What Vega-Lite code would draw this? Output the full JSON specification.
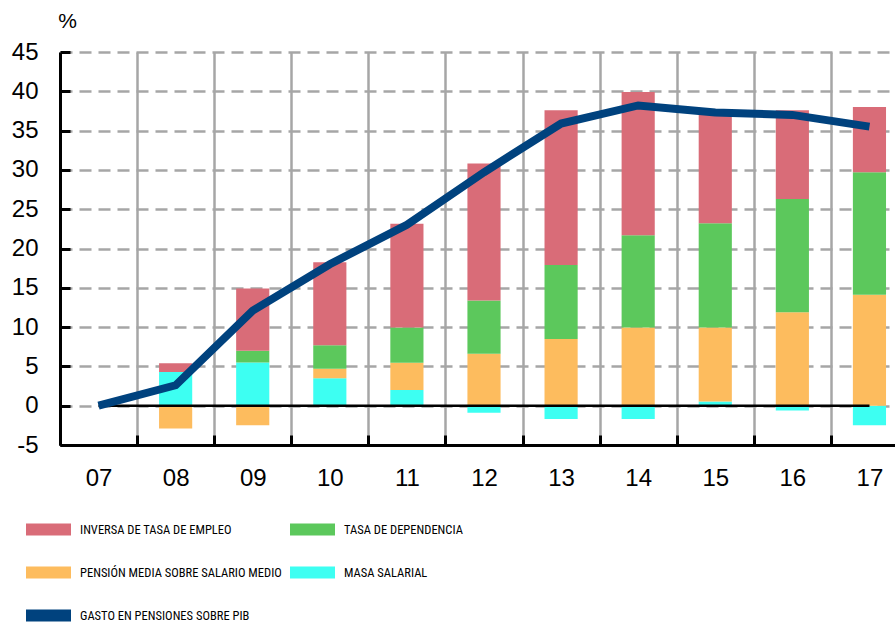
{
  "$schema": "https://vega.github.io/schema/vega-lite/v6.json",
  "width": 835,
  "height": 393,
  "autosize": {"type": "none"},
  "padding": {"left": 60, "top": 52, "right": 0, "bottom": 184},
  "background": "white",
  "datasets": {
    "bars": [
      {"year": "08", "serie": "MASA SALARIAL", "rank": 1, "value": 4.3},
      {"year": "08", "serie": "PENSIÓN MEDIA SOBRE SALARIO MEDIO", "rank": 2, "value": -2.9},
      {"year": "08", "serie": "TASA DE DEPENDENCIA", "rank": 3, "value": 0},
      {"year": "08", "serie": "INVERSA DE TASA DE EMPLEO", "rank": 4, "value": 1.1},
      {"year": "09", "serie": "MASA SALARIAL", "rank": 1, "value": 5.5},
      {"year": "09", "serie": "PENSIÓN MEDIA SOBRE SALARIO MEDIO", "rank": 2, "value": -2.5},
      {"year": "09", "serie": "TASA DE DEPENDENCIA", "rank": 3, "value": 1.5},
      {"year": "09", "serie": "INVERSA DE TASA DE EMPLEO", "rank": 4, "value": 7.9},
      {"year": "10", "serie": "MASA SALARIAL", "rank": 1, "value": 3.5},
      {"year": "10", "serie": "PENSIÓN MEDIA SOBRE SALARIO MEDIO", "rank": 2, "value": 1.2},
      {"year": "10", "serie": "TASA DE DEPENDENCIA", "rank": 3, "value": 3.0},
      {"year": "10", "serie": "INVERSA DE TASA DE EMPLEO", "rank": 4, "value": 10.55},
      {"year": "11", "serie": "MASA SALARIAL", "rank": 1, "value": 2.0},
      {"year": "11", "serie": "PENSIÓN MEDIA SOBRE SALARIO MEDIO", "rank": 2, "value": 3.45},
      {"year": "11", "serie": "TASA DE DEPENDENCIA", "rank": 3, "value": 4.5},
      {"year": "11", "serie": "INVERSA DE TASA DE EMPLEO", "rank": 4, "value": 13.2},
      {"year": "12", "serie": "MASA SALARIAL", "rank": 1, "value": -0.9},
      {"year": "12", "serie": "PENSIÓN MEDIA SOBRE SALARIO MEDIO", "rank": 2, "value": 6.6},
      {"year": "12", "serie": "TASA DE DEPENDENCIA", "rank": 3, "value": 6.8},
      {"year": "12", "serie": "INVERSA DE TASA DE EMPLEO", "rank": 4, "value": 17.4},
      {"year": "13", "serie": "MASA SALARIAL", "rank": 1, "value": -1.7},
      {"year": "13", "serie": "PENSIÓN MEDIA SOBRE SALARIO MEDIO", "rank": 2, "value": 8.5},
      {"year": "13", "serie": "TASA DE DEPENDENCIA", "rank": 3, "value": 9.4},
      {"year": "13", "serie": "INVERSA DE TASA DE EMPLEO", "rank": 4, "value": 19.7},
      {"year": "14", "serie": "MASA SALARIAL", "rank": 1, "value": -1.7},
      {"year": "14", "serie": "PENSIÓN MEDIA SOBRE SALARIO MEDIO", "rank": 2, "value": 9.95},
      {"year": "14", "serie": "TASA DE DEPENDENCIA", "rank": 3, "value": 11.75},
      {"year": "14", "serie": "INVERSA DE TASA DE EMPLEO", "rank": 4, "value": 18.2},
      {"year": "15", "serie": "MASA SALARIAL", "rank": 1, "value": 0.55},
      {"year": "15", "serie": "PENSIÓN MEDIA SOBRE SALARIO MEDIO", "rank": 2, "value": 9.4},
      {"year": "15", "serie": "TASA DE DEPENDENCIA", "rank": 3, "value": 13.25},
      {"year": "15", "serie": "INVERSA DE TASA DE EMPLEO", "rank": 4, "value": 14.1},
      {"year": "16", "serie": "MASA SALARIAL", "rank": 1, "value": -0.6},
      {"year": "16", "serie": "PENSIÓN MEDIA SOBRE SALARIO MEDIO", "rank": 2, "value": 11.9},
      {"year": "16", "serie": "TASA DE DEPENDENCIA", "rank": 3, "value": 14.4},
      {"year": "16", "serie": "INVERSA DE TASA DE EMPLEO", "rank": 4, "value": 11.3},
      {"year": "17", "serie": "MASA SALARIAL", "rank": 1, "value": -2.5},
      {"year": "17", "serie": "PENSIÓN MEDIA SOBRE SALARIO MEDIO", "rank": 2, "value": 14.1},
      {"year": "17", "serie": "TASA DE DEPENDENCIA", "rank": 3, "value": 15.6},
      {"year": "17", "serie": "INVERSA DE TASA DE EMPLEO", "rank": 4, "value": 8.3}
    ],
    "gasto": [
      {"year": "07", "serie": "GASTO EN PENSIONES SOBRE PIB", "value": 0},
      {"year": "08", "serie": "GASTO EN PENSIONES SOBRE PIB", "value": 2.6},
      {"year": "09", "serie": "GASTO EN PENSIONES SOBRE PIB", "value": 12.1},
      {"year": "10", "serie": "GASTO EN PENSIONES SOBRE PIB", "value": 18.0},
      {"year": "11", "serie": "GASTO EN PENSIONES SOBRE PIB", "value": 23.0},
      {"year": "12", "serie": "GASTO EN PENSIONES SOBRE PIB", "value": 29.7},
      {"year": "13", "serie": "GASTO EN PENSIONES SOBRE PIB", "value": 35.9},
      {"year": "14", "serie": "GASTO EN PENSIONES SOBRE PIB", "value": 38.2},
      {"year": "15", "serie": "GASTO EN PENSIONES SOBRE PIB", "value": 37.3},
      {"year": "16", "serie": "GASTO EN PENSIONES SOBRE PIB", "value": 37.0},
      {"year": "17", "serie": "GASTO EN PENSIONES SOBRE PIB", "value": 35.5}
    ],
    "zero": [
      {"year": "07", "year2": "17", "value": 0}
    ]
  },
  "config": {
    "view": {"stroke": null},
    "font": "Liberation Sans"
  },
  "encoding": {
    "x": {
      "field": "year",
      "type": "ordinal",
      "scale": {"domain": ["07","08","09","10","11","12","13","14","15","16","17"], "range": [0, 848], "paddingInner": 0, "paddingOuter": 0},
      "axis": {
        "title": null,
        "labelAngle": 0,
        "labelFontSize": 24,
        "labelColor": "#000000",
        "labelPadding": 31,
        "tickBand": "extent",
        "tickSize": -10,
        "tickWidth": 3,
        "tickColor": "#000000",
        "domainColor": "#000000",
        "domainWidth": 3,
        "grid": true,
        "gridColor": "#A6A6A6",
        "gridWidth": 2.5,
        "zindex": 0
      }
    },
    "y": {
      "field": "value",
      "type": "quantitative",
      "scale": {"domain": [-5, 45], "nice": false, "zero": false},
      "axis": {
        "values": [-5, 0, 5, 10, 15, 20, 25, 30, 35, 40, 45],
        "tickCount": 11,
        "labelOverlap": false,
        "labelExpr": "'' + datum.value",
        "title": "%",
        "titleAngle": 0,
        "titleX": 7,
        "titleY": -31,
        "titleAlign": "center",
        "titleBaseline": "middle",
        "titleFontSize": 21,
        "titleFontWeight": "normal",
        "titleColor": "#000000",
        "labelFontSize": 24,
        "labelColor": "#000000",
        "labelPadding": 32,
        "tickSize": -10,
        "tickWidth": 3,
        "tickColor": "#000000",
        "domainColor": "#000000",
        "domainWidth": 3,
        "grid": true,
        "gridColor": "#A6A6A6",
        "gridWidth": 2.5,
        "gridDash": [12, 7],
        "zindex": 0
      }
    }
  },
  "layer": [
    {
      "data": {"name": "bars"},
      "mark": {"type": "bar", "width": {"band": 0.43}},
      "encoding": {
        "y": {"field": "value", "type": "quantitative", "stack": "zero"},
        "color": {
          "field": "serie",
          "type": "nominal",
          "scale": {
            "domain": ["INVERSA DE TASA DE EMPLEO", "PENSIÓN MEDIA SOBRE SALARIO MEDIO", "GASTO EN PENSIONES SOBRE PIB", "TASA DE DEPENDENCIA", "MASA SALARIAL"],
            "range": ["#D96C78", "#FDBC5E", "#00427E", "#5CC85C", "#3DFFF2"]
          },
          "legend": {
            "title": null,
            "orient": "none",
            "legendX": -34,
            "legendY": 455,
            "columns": 2,
            "columnPadding": 8,
            "rowPadding": 14,
            "symbolType": "M-1,-0.267L1,-0.267L1,0.267L-1,0.267Z",
            "symbolSize": 2025,
            "symbolStrokeWidth": 0,
            "labelFont": "'Liberation Sans Narrow', 'Roboto Condensed', 'DejaVu Sans Condensed', 'Liberation Sans'",
            "labelFontSize": 12.5,
            "labelColor": "#000000",
            "labelOffset": 9,
            "labelLimit": 400
          }
        },
        "order": {"field": "rank", "type": "quantitative"}
      }
    },
    {
      "data": {"name": "zero"},
      "mark": {"type": "rule", "color": "#000000", "strokeWidth": 2.5},
      "encoding": {
        "x2": {"field": "year2"}
      }
    },
    {
      "data": {"name": "gasto"},
      "mark": {"type": "line", "strokeWidth": 8, "strokeCap": "butt", "strokeJoin": "miter"},
      "encoding": {
        "color": {"field": "serie", "type": "nominal"}
      }
    }
  ]
}
